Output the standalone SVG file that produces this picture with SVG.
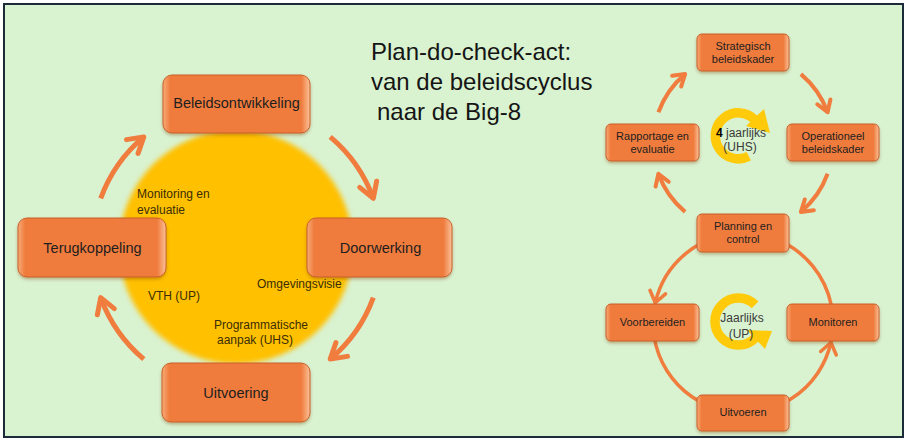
<svg xmlns="http://www.w3.org/2000/svg" width="907" height="441" viewBox="0 0 907 441">
<defs>
<style>
.bg{fill:#d9f2d0;stroke:#1c2b3a;stroke-width:2}
.box{fill:url(#bx);stroke:#c9602a;stroke-width:1;filter:url(#sh)}
.lbl{font-family:"Liberation Sans",Arial,sans-serif;fill:#1e1e1e;text-anchor:middle}
.big{font-size:14.5px}
.sm{font-size:11px}
.in{font-family:"Liberation Sans",Arial,sans-serif;font-size:12px;fill:#3a2d05}
.title{font-family:"Liberation Sans",Arial,sans-serif;font-size:24px;fill:#151515}
.arcL{fill:none;stroke:#f07c3e;stroke-width:5;marker-end:url(#hL)}
.arcR{fill:none;stroke:#f07c3e;stroke-width:4;marker-end:url(#hR)}
.ring{fill:none;stroke:#f07c3e;stroke-width:3.5}
.ringA{fill:none;stroke:#f07c3e;stroke-width:3.5;marker-end:url(#hS)}
.cyc{fill:none;stroke:#ffca0a;stroke-width:9.5}
.cych{fill:#ffca0a}
.ic{font-family:"Liberation Sans",Arial,sans-serif;font-size:12px;fill:#3a3a3a;text-anchor:middle}
</style>
<linearGradient id="bx" x1="0" y1="0" x2="1" y2="0">
<stop offset="0" stop-color="#f7ab78"/>
<stop offset="0.05" stop-color="#ef7b3c"/>
<stop offset="0.94" stop-color="#ef7b3c"/>
<stop offset="1" stop-color="#fbc29a"/>
</linearGradient>
<filter id="sh" x="-10%" y="-10%" width="120%" height="140%">
<feDropShadow dx="0" dy="2" stdDeviation="1.5" flood-color="#7a3a10" flood-opacity="0.35"/>
</filter>
<filter id="soft" x="-10%" y="-10%" width="120%" height="120%">
<feGaussianBlur stdDeviation="2.5"/>
</filter>
<marker id="hL" markerUnits="userSpaceOnUse" markerWidth="40" markerHeight="40" refX="0" refY="0" orient="auto" overflow="visible">
<path d="M-15,-9 L0,0 L-15,9" fill="none" stroke="#f07c3e" stroke-width="5" stroke-linecap="round" stroke-linejoin="round"/>
</marker>
<marker id="hR" markerUnits="userSpaceOnUse" markerWidth="30" markerHeight="30" refX="0" refY="0" orient="auto" overflow="visible">
<path d="M-11,-7 L0,0 L-11,7" fill="none" stroke="#f07c3e" stroke-width="4" stroke-linecap="round" stroke-linejoin="round"/>
</marker>
<marker id="hS" markerUnits="userSpaceOnUse" markerWidth="30" markerHeight="30" refX="0" refY="0" orient="auto" overflow="visible">
<path d="M-11,-8 L0,0 L-11,8" fill="none" stroke="#f07c3e" stroke-width="3.5" stroke-linecap="round" stroke-linejoin="round"/>
</marker>
</defs>

<rect class="bg" x="4" y="4" width="899" height="433"/>

<circle cx="236" cy="247" r="117" fill="#ffc000" filter="url(#soft)"/>

<g class="title">
<text x="371" y="60">Plan-do-check-act:</text>
<text x="371" y="90">van de beleidscyclus</text>
<text x="377" y="120">naar de Big-8</text>
</g>

<g id="connectors">
<path class="arcL" d="M100.7,198.4 A145,145 0 0 1 143.8,136.9"/>
<path class="arcL" d="M330.2,136.9 A145,145 0 0 1 373.3,198.4"/>
<path class="arcL" d="M373.3,297.6 A145,145 0 0 1 330.2,359.1"/>
<path class="arcL" d="M143.8,359.1 A145,145 0 0 1 100.7,297.6"/>
<path class="arcR" d="M658.4,112.2 A90,90 0 0 1 685.1,74.1"/>
<path class="arcR" d="M800.9,74.1 A90,90 0 0 1 827.6,112.2"/>
<path class="arcR" d="M827.6,173.8 A90,90 0 0 1 800.9,211.9"/>
<path class="arcR" d="M685.1,211.9 A90,90 0 0 1 658.4,173.8"/>
<path class="ringA" d="M743,233 A90,90 0 0 0 655.3,302.8"/>
<path class="ringA" d="M655.3,302.8 A90,90 0 1 0 830.9,342.5"/>
<path class="ring" d="M830.9,342.5 A90,90 0 0 0 743,233"/>
</g>

<g id="cycle-4jaarlijks">
<path class="cyc" d="M748.8,156.3 A23,23 0 1 1 755,120"/>
<polygon class="cych" points="746,126 764,109 770,133"/>
<text class="ic" x="741" y="137"><tspan fill="#000" font-weight="bold">4</tspan> jaarlijks</text>
<text class="ic" x="740" y="151">(UHS)</text>
</g>

<g id="cycle-jaarlijks">
<path class="cyc" d="M755.1,304.9 A23.5,23.5 0 1 0 755.1,338.1"/>
<polygon class="cych" points="747,330 765,349 772,331"/>
<text class="ic" x="742" y="322">Jaarlijks</text>
<text class="ic" x="741" y="338">(UP)</text>
</g>

<g id="circle-labels" class="in">
<text x="137" y="198">Monitoring en</text>
<text x="137" y="214">evaluatie</text>
<text x="148" y="300">VTH (UP)</text>
<text x="257" y="288">Omgevingsvisie</text>
<text x="214" y="329">Programmatische</text>
<text x="217" y="344">aanpak (UHS)</text>
</g>

<g id="beleidsontwikkeling">
<rect class="box" x="163" y="75" width="147" height="58" rx="9"/>
<text class="lbl big" x="236.5" y="108">Beleidsontwikkeling</text>
</g>
<g id="terugkoppeling">
<rect class="box" x="18" y="218" width="148" height="59" rx="9"/>
<text class="lbl big" x="92.5" y="253">Terugkoppeling</text>
</g>
<g id="doorwerking">
<rect class="box" x="307" y="218" width="145" height="59" rx="9"/>
<text class="lbl big" x="380.5" y="253">Doorwerking</text>
</g>
<g id="uitvoering">
<rect class="box" x="162" y="363" width="148" height="59" rx="9"/>
<text class="lbl big" x="236" y="398">Uitvoering</text>
</g>

<g id="strategisch">
<rect class="box" x="697" y="34" width="92" height="37" rx="5"/>
<text class="lbl sm" x="743" y="50">Strategisch</text>
<text class="lbl sm" x="743" y="63">beleidskader</text>
</g>
<g id="rapportage">
<rect class="box" x="606" y="124" width="93" height="37" rx="5"/>
<text class="lbl sm" x="652.5" y="140">Rapportage en</text>
<text class="lbl sm" x="652.5" y="153">evaluatie</text>
</g>
<g id="operationeel">
<rect class="box" x="787" y="124" width="92" height="37" rx="5"/>
<text class="lbl sm" x="833" y="140">Operationeel</text>
<text class="lbl sm" x="833" y="153">beleidskader</text>
</g>
<g id="planning">
<rect class="box" x="697" y="214" width="92" height="38" rx="5"/>
<text class="lbl sm" x="743" y="230">Planning en</text>
<text class="lbl sm" x="743" y="243">control</text>
</g>
<g id="voorbereiden">
<rect class="box" x="606" y="304" width="93" height="37" rx="5"/>
<text class="lbl sm" x="652.5" y="326">Voorbereiden</text>
</g>
<g id="monitoren">
<rect class="box" x="787" y="304" width="92" height="37" rx="5"/>
<text class="lbl sm" x="833" y="326">Monitoren</text>
</g>
<g id="uitvoeren">
<rect class="box" x="697" y="395" width="92" height="36" rx="5"/>
<text class="lbl sm" x="743" y="416">Uitvoeren</text>
</g>
</svg>
